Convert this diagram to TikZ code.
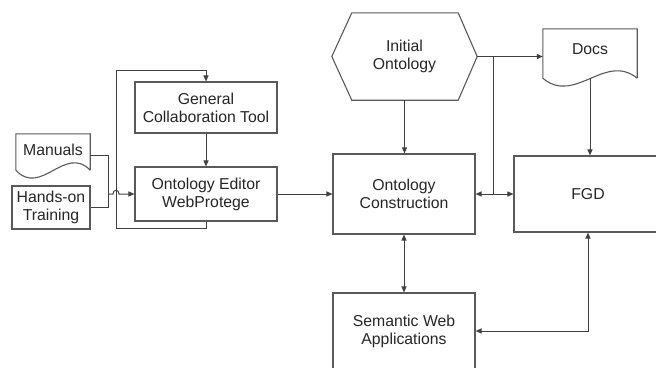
\documentclass[tikz,border=0pt]{standalone}
\usepackage{fontspec}
\setmainfont{Liberation Sans}
\usetikzlibrary{arrows.meta,positioning,calc}

\begin{document}
\begin{tikzpicture}[x=1pt,y=-1pt, every node/.style={font=\fontsize{15.8}{18}\selectfont,text=black!85},
 shp/.style={draw=black!65,line width=1.1pt},
 box/.style={shp,align=center,inner sep=0pt},
 bare/.style={align=center,inner sep=0pt},
 ln/.style={draw=black!75,line width=1pt},
 arr/.style={ln,-{Triangle[length=6pt,width=5pt]}},
 darr/.style={ln,{Triangle[length=6pt,width=5pt]}-{Triangle[length=6pt,width=5pt]}}]
\clip (0,0) rectangle (656,367);
\node[box,minimum width=142pt,minimum height=51pt] (gct) at (206,107.5) {General\\Collaboration Tool};
\node[box,minimum width=142pt,minimum height=54pt] (oew) at (206,194) {Ontology Editor\\WebProtege};
\node[bare,minimum width=74pt,minimum height=36pt,text depth=4pt] (man) at (53,152) {Manuals};
\node[box,minimum width=78pt,minimum height=43pt] (hot) at (51,207.5) {Hands-on\\Training};
\node[box,minimum width=142pt,minimum height=80pt] (oc) at (404,194) {Ontology\\Construction};
\node[bare,minimum width=145pt,minimum height=87pt] (io) at (404.5,56.5) {Initial\\Ontology};
\node[bare,minimum width=94pt,minimum height=49pt,text depth=9pt] (docs) at (590,53.5) {Docs};
\node[box,minimum width=148pt,minimum height=76pt] (fgd) at (588,194) {FGD};
\node[box,minimum width=142pt,minimum height=76pt] (swa) at (404,331) {Semantic Web\\Applications};
% outlines of the document and hexagon shapes
\foreach \d in {man,docs}
 \draw[shp] (\d.south east) -- (\d.north east) -- (\d.north west) -- (\d.south west)
  .. controls ($(\d.south west)!0.34!(\d.south east)+(0,27)$) and ($(\d.south east)!0.34!(\d.south west)+(0,-26)$) .. (\d.south east);
\draw[shp] (io.west) -- ($(io.north west)+(20,0)$) -- ($(io.north east)+(-19,0)$) -- (io.east)
 -- ($(io.south east)+(-19,0)$) -- ($(io.south west)+(20,0)$) -- cycle;
% connectors
\coordinate (mj) at (108,194);
\coordinate (lpb) at (116,228);
\coordinate (lpt) at (116,70);
\coordinate (br) at ($(io.east)+(16,0)$);
\draw[ln] ([yshift=-3pt]man.east) -| (mj);
\draw[ln] (hot.east) -| (mj);
\draw[arr] (mj) -- ($(mj)+(5,0)$) .. controls +(0,-5) and +(0,-5) .. ($(mj)+(11,0)$) -- (oew.west);
\draw[arr] (oew.south) |- (lpb) -- (lpt) -| (gct.north);
\draw[arr] (gct) -- (oew);
\draw[arr] (oew) -- (oc);
\draw[arr] (io.south) -- (io.south |- oc.north);
\draw[arr] (io.east) -- (io.east -| docs.west);
\draw[ln] (br) -- (br |- oc.east);
\draw[arr] (br |- oc.east) -- (oc.east);
\draw[arr] (br |- oc.east) -- (fgd.west);
\draw[arr] (docs.south) -- (docs.south |- fgd.north);
\draw[darr] (oc) -- (swa);
\draw[darr] (swa.east) -| (fgd.south);
\end{tikzpicture}
\end{document}
